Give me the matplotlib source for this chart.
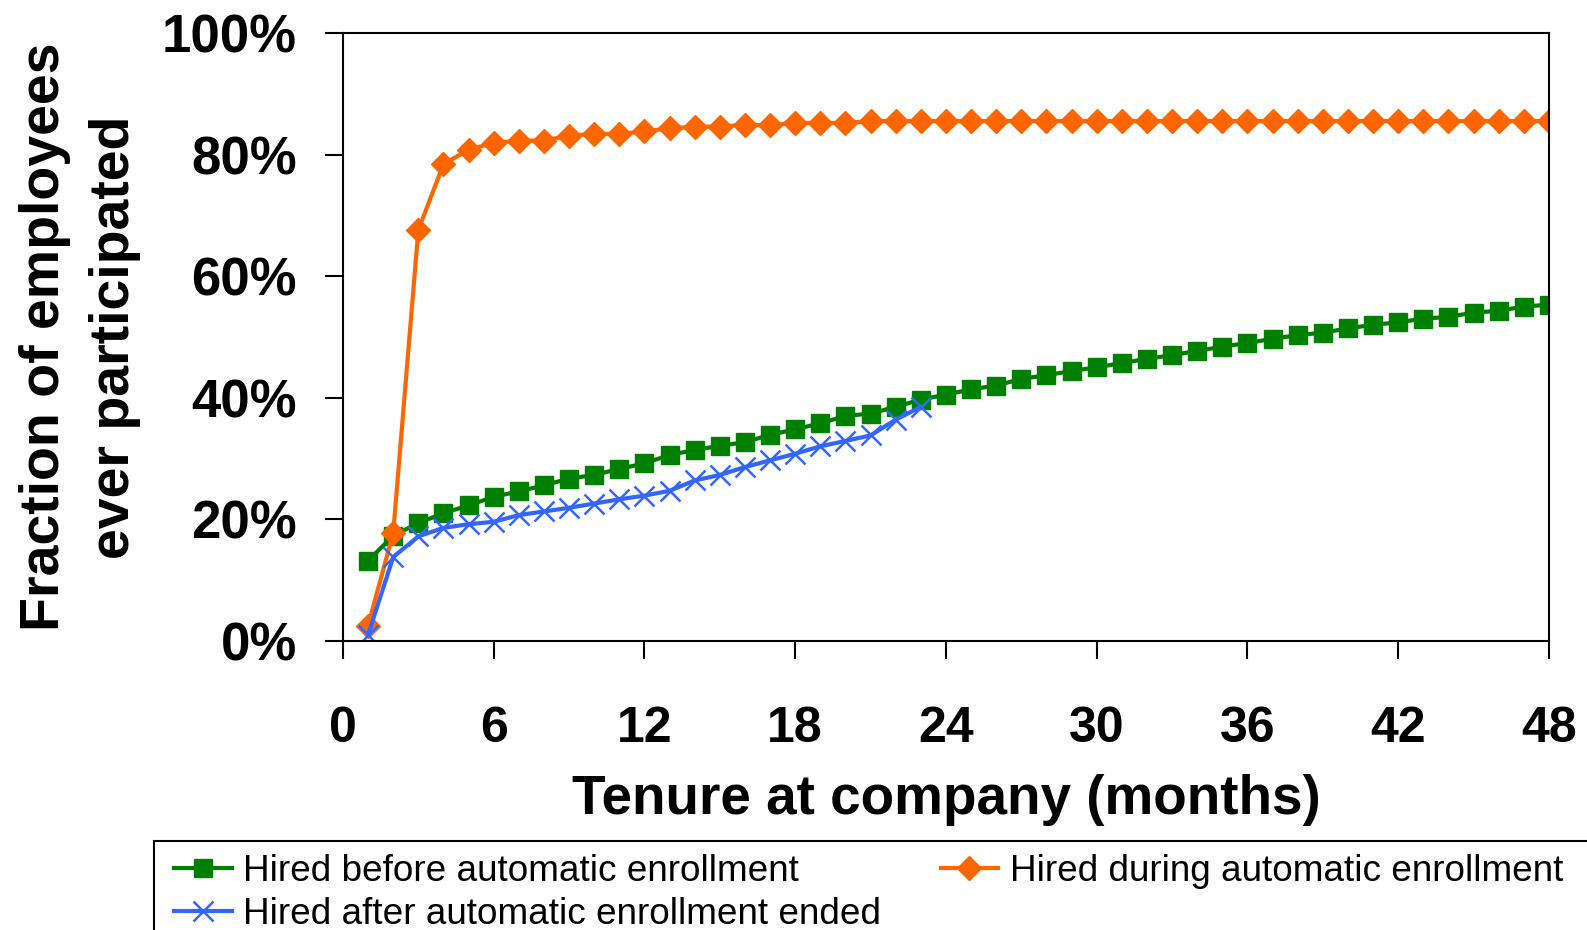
import matplotlib
matplotlib.use("Agg")
import matplotlib.pyplot as plt
from matplotlib.patches import Rectangle
from matplotlib.ticker import FuncFormatter

plt.rcParams['font.family'] = ['Liberation Sans', 'DejaVu Sans']

# participation by month of tenure (%)
months = list(range(1, 49))
before_auto = [13.2, 17.3, 19.4, 21.0, 22.3, 23.7, 24.6, 25.6, 26.7, 27.3, 28.3, 29.2,
               30.6, 31.4, 32.1, 32.7, 33.9, 34.8, 35.8, 37.0, 37.4, 38.5, 39.7, 40.5,
               41.4, 42.0, 43.1, 43.7, 44.4, 45.0, 45.7, 46.4, 47.0, 47.7, 48.4, 49.0,
               49.7, 50.3, 50.7, 51.4, 52.0, 52.4, 53.0, 53.3, 54.0, 54.3, 55.0, 55.3]
during_auto = [2.5, 17.8, 67.6, 78.4, 80.8, 81.9, 82.3, 82.3, 83.1, 83.4, 83.4, 83.8,
               84.3, 84.6, 84.6, 84.9, 84.8, 85.2, 85.2, 85.2, 85.5, 85.5, 85.5, 85.5,
               85.5, 85.5, 85.5, 85.5, 85.5, 85.5, 85.5, 85.5, 85.5, 85.5, 85.5, 85.5,
               85.5, 85.5, 85.5, 85.5, 85.5, 85.5, 85.5, 85.5, 85.5, 85.5, 85.5, 85.5]
after_months = list(range(1, 24))
after_auto = [1.0, 13.8, 17.2, 18.6, 19.2, 19.6, 20.7, 21.3, 21.9, 22.6, 23.3, 23.9,
              24.7, 26.4, 27.3, 28.6, 29.7, 30.8, 32.0, 32.9, 33.8, 36.4, 38.5]

labels = ['Hired before automatic enrollment',
          'Hired during automatic enrollment',
          'Hired after automatic enrollment ended']

fig = plt.figure(figsize=(15.87, 9.3), dpi=100)
ax = fig.add_axes([0.2161, 0.3108, 0.7599, 0.6538])

l_before, = ax.plot(months, [v / 100 for v in before_auto], color='#008000', lw=3,
                    marker='s', markersize=13, label=labels[0])
l_during, = ax.plot(months, [v / 100 for v in during_auto], color='#FF6600', lw=3,
                    marker='D', markersize=12, label=labels[1])
l_after, = ax.plot(after_months, [v / 100 for v in after_auto], color='#3366FF', lw=3,
                   marker='x', markersize=14, markeredgewidth=1.8, label=labels[2])

ax.set_xlim(0, 48)
ax.set_ylim(0, 1)
ax.set_xticks(range(0, 49, 6))
ax.set_yticks([0, 0.2, 0.4, 0.6, 0.8, 1.0])
ax.yaxis.set_major_formatter(FuncFormatter(lambda v, p: f'{v * 100:.0f}%'))

for s in ax.spines.values():
    s.set_linewidth(1.5)
ax.tick_params(axis='both', direction='out', length=13, width=1.5)
ax.tick_params(axis='x', pad=34, labelsize=36)
ax.tick_params(axis='y', pad=20, labelsize=38)
for t in ax.get_xticklabels() + ax.get_yticklabels():
    t.set_fontweight('bold')

ax.set_xlabel('Tenure at company (months)', fontsize=39.5, fontweight='bold', labelpad=16)
ax.set_ylabel('Fraction of employees\never participated', fontsize=40,
              fontweight='bold', labelpad=15, linespacing=1.45)

# legend box runs off the right and bottom edges
fig.patches.append(Rectangle((154 / 1587, -0.05), 1.0, 1 - 841 / 930 + 0.05,
                             transform=fig.transFigure, fill=False,
                             edgecolor='black', lw=1.5))
fig.legend([l_before, l_after, l_during], [labels[0], labels[2], labels[1]],
           ncol=2, loc='upper left', bbox_to_anchor=(154 / 1587, 1 - 834 / 930),
           frameon=False, fontsize=26.6, borderpad=0.55, borderaxespad=0,
           handlelength=1.55, handletextpad=0.32, columnspacing=1.6,
           labelspacing=0.2)

fig.savefig('out.png', dpi=100)
